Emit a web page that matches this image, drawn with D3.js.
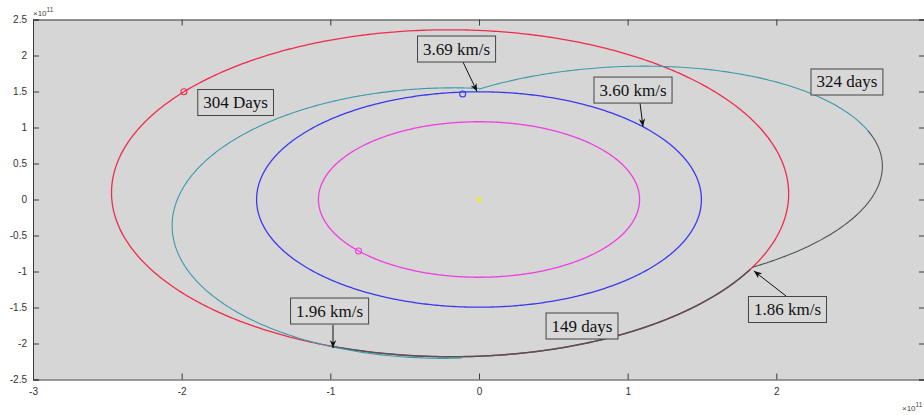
<!DOCTYPE html>
<html>
<head>
<meta charset="utf-8">
<script src="https://cdn.jsdelivr.net/npm/d3@7"></script>
<style>
  body { margin: 0; background: #fff; }
  svg { display: block; }
</style>
</head>
<body>
<svg id="chart"></svg>
<script>
const width = 924
const height = 415

// axes, in units of 1e11 m
const xTicks = [-3, -2, -1, 0, 1, 2]
const yTicks = [2.5, 2, 1.5, 1, 0.5, 0, -0.5, -1, -1.5, -2, -2.5]

// planet orbits: semi-major axis (1e11 m), eccentricity, perihelion angle (deg)
const orbitNames = ['Venus', 'Earth', 'Mars']
const orbitA = [1.08, 1.496, 2.279]
const orbitE = [0, 0, 0.0934]
const orbitPeri = [0, 0, 336]

// Mars position during the 149 day stay, arrival -> departure angle (deg)
const stayAngles = [244, 332]

// transfer conics: semi-latus rectum (1e11 m), eccentricity, perihelion angle (deg)
const transferNames = ['outbound', 'return']
const transferP = [1.811, 1.2757]
const transferE = [0.204, 0.5423]
const transferPeri = [58.2, 198.05]

// drawn spans of the transfers (deg)
const outboundSpan = [90, 267]
const returnGraySpan = [-27, 20]
const returnTealSpan = [20, 90]

// markers: Mars, Earth, Venus at launch; sun
const markerPts = [[-1.985, 1.496], [-0.11, 1.465], [-0.81, -0.715]]
const sun = [0, 0]

// annotations
const labelText = ['3.69 km/s', '3.60 km/s', '304 Days', '324 days', '1.86 km/s', '1.96 km/s', '149 days']
const labelPos = [[-0.151, 2.09], [1.036, 1.52], [-1.637, 1.347], [2.475, 1.632], [2.075, -1.528], [-1.005, -1.549], [0.693, -1.757]]
const arrowTail = [[-0.108, 1.91], [1.083, 1.34], null, null, [2.065, -1.34], [-0.982, -1.743], null]
const arrowTip = [[-0.013, 1.50], [1.103, 1.011], null, null, [1.849, -0.993], [-0.982, -2.063], null]

// styles
const orbitColors = ['#f03ee0', '#3a3af0', '#f02c4c']
const tealColor = '#3c9aaa'
const grayColor = '#4e5656'
const markerColors = ['#f02c4c', '#3a3af0', '#f03ee0']

const plot = { left: 33, right: 925, top: 19.5, bottom: 379.5 }

const x = d3.scaleLinear().domain([-3, 3]).range([plot.left, plot.right])
const y = d3.scaleLinear().domain([-2.5, 2.5]).range([plot.bottom, plot.top])

const svg = d3.select('#chart')
  .attr('width', width)
  .attr('height', height)

svg.append('rect')
  .attr('width', width).attr('height', height)
  .attr('fill', '#fff')

svg.append('rect')
  .attr('x', plot.left).attr('y', plot.top)
  .attr('width', plot.right - plot.left)
  .attr('height', plot.bottom - plot.top)
  .attr('fill', '#d6d6d6')

svg.append('clipPath').attr('id', 'clip')
  .append('rect')
  .attr('x', plot.left).attr('y', plot.top)
  .attr('width', plot.right - plot.left)
  .attr('height', plot.bottom - plot.top)

svg.append('defs').append('marker')
  .attr('id', 'head')
  .attr('viewBox', '0 0 10 8')
  .attr('refX', 10).attr('refY', 4)
  .attr('markerWidth', 8).attr('markerHeight', 6.4)
  .attr('markerUnits', 'userSpaceOnUse')
  .attr('orient', 'auto')
  .append('path')
  .attr('d', 'M0,0 L10,4 L0,8 L3,4 z')
  .attr('fill', '#111')

const g = svg.append('g').attr('clip-path', 'url(#clip)')

const line = d3.line().x(d => x(d[0])).y(d => y(d[1]))

// point on a sun-centred conic at angle (deg)
function conicPoint(p, e, peri, deg) {
  const t = deg * Math.PI / 180
  const r = p / (1 + e * Math.cos(t - peri * Math.PI / 180))
  return [r * Math.cos(t), r * Math.sin(t)]
}

function arc(p, e, peri, from, to) {
  return d3.range(from, to, 0.5).concat([to]).map(a => conicPoint(p, e, peri, a))
}

function drawArc(pts, color, w) {
  g.append('path')
    .attr('d', line(pts))
    .attr('fill', 'none')
    .attr('stroke', color)
    .attr('stroke-width', w)
}

// planet orbits
orbitNames.forEach((name, i) => {
  const p = orbitA[i] * (1 - orbitE[i] ** 2)
  drawArc(arc(p, orbitE[i], orbitPeri[i], 0, 360), orbitColors[i], 1.3)
})

// Mars stay
const marsP = orbitA[2] * (1 - orbitE[2] ** 2)
drawArc(arc(marsP, orbitE[2], orbitPeri[2], stayAngles[0], stayAngles[1]), grayColor, 1.5)

// transfers
drawArc(arc(transferP[1], transferE[1], transferPeri[1], returnGraySpan[0], returnGraySpan[1]), grayColor, 1.1)
drawArc(arc(transferP[1], transferE[1], transferPeri[1], returnTealSpan[0], returnTealSpan[1]), tealColor, 1.1)
drawArc(arc(transferP[0], transferE[0], transferPeri[0], outboundSpan[0], outboundSpan[1]), tealColor, 1.1)

// markers
markerPts.forEach((p, i) => {
  g.append('circle')
    .attr('cx', x(p[0])).attr('cy', y(p[1]))
    .attr('r', 3)
    .attr('fill', 'none')
    .attr('stroke', markerColors[i])
    .attr('stroke-width', 1.1)
})

g.append('circle')
  .attr('cx', x(sun[0])).attr('cy', y(sun[1]))
  .attr('r', 3)
  .attr('fill', '#e4e46a')

// axes with MATLAB-style box
const tickLen = 6
const axisColor = '#3a3a3a'
const fmt = d => String(d)

svg.append('g')
  .attr('transform', `translate(0,${plot.bottom})`)
  .call(d3.axisBottom(x).tickValues(xTicks).tickSize(-tickLen).tickPadding(8).tickFormat(fmt))
svg.append('g')
  .attr('transform', `translate(0,${plot.top})`)
  .call(d3.axisTop(x).tickValues(xTicks).tickSize(-tickLen).tickFormat(''))
svg.append('g')
  .attr('transform', `translate(${plot.left},0)`)
  .call(d3.axisLeft(y).tickValues(yTicks).tickSize(-tickLen).tickPadding(6).tickFormat(fmt))
svg.append('g')
  .attr('transform', `translate(${plot.right},0)`)
  .call(d3.axisRight(y).tickValues(yTicks).tickSize(-tickLen).tickFormat(''))

svg.selectAll('.domain, .tick line').attr('stroke', axisColor)
svg.selectAll('.tick text')
  .attr('font-family', 'Liberation Sans, Arial, sans-serif')
  .attr('font-size', 10)
  .attr('fill', '#333')

// exponent labels
function exponent(px, py) {
  const t = svg.append('text')
    .attr('x', px).attr('y', py)
    .attr('font-family', 'Liberation Sans, Arial, sans-serif')
    .attr('font-size', 8)
    .attr('fill', '#444')
  t.append('tspan').text('\u00d710')
  t.append('tspan').attr('dy', -4).attr('font-size', 6.5).text('11')
}
exponent(plot.left, 16)
exponent(902, 411)

// annotations
const ann = svg.append('g')
labelText.forEach((txt, i) => {
  if (arrowTip[i]) {
    ann.append('line')
      .attr('x1', x(arrowTail[i][0])).attr('y1', y(arrowTail[i][1]))
      .attr('x2', x(arrowTip[i][0])).attr('y2', y(arrowTip[i][1]))
      .attr('stroke', '#111')
      .attr('stroke-width', 1)
      .attr('marker-end', 'url(#head)')
  }
  const cx = x(labelPos[i][0]), cy = y(labelPos[i][1])
  const box = ann.append('rect')
  const t = ann.append('text')
    .attr('x', cx).attr('y', cy)
    .attr('text-anchor', 'middle')
    .attr('dominant-baseline', 'central')
    .attr('font-family', 'Liberation Serif, Times New Roman, serif')
    .attr('font-size', 17)
    .attr('fill', '#111')
    .text(txt)
  const bb = t.node().getBBox()
  box.attr('x', bb.x - 5.5).attr('y', cy - 13)
    .attr('width', bb.width + 11).attr('height', 26)
    .attr('fill', '#d8d8d8')
    .attr('stroke', '#444')
    .attr('stroke-width', 1)
})
</script>
</body>
</html>
